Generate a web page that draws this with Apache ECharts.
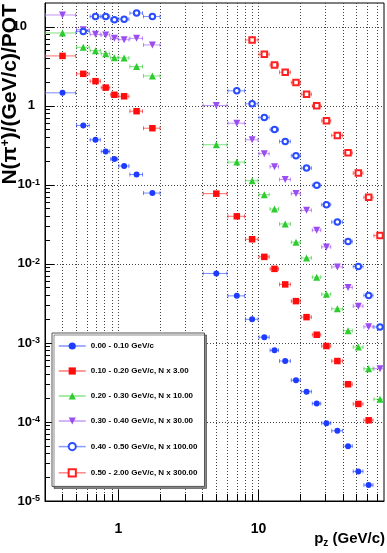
<!DOCTYPE html>
<html>
<head>
<meta charset="utf-8">
<script src="https://cdn.jsdelivr.net/npm/echarts@6/dist/echarts.min.js"></script>
<style>
html, body { margin: 0; padding: 0; background: #fff; }
#chart { width: 387px; height: 553px; }
</style>
</head>
<body>
<div id="chart"></div>
<script>
// p_z bin centres (GeV/c) and half widths: low-momentum part, then high-momentum part
const pzLow = [0.4, 0.5625, 0.6875, 0.8125, 0.9375, 1.1, 1.35, 1.75];
const pzLowErr = [0.1, 0.0625, 0.0625, 0.0625, 0.0625, 0.1, 0.15, 0.25];
const pzHigh = [5, 7, 9, 11, 13, 15.5, 18.5, 22, 26, 30.5, 36.5, 43.5, 51.5, 61, 73.5];
const pzHighErr = [1, 1, 1, 1, 1, 1.5, 1.5, 2, 2, 2.5, 3.5, 3.5, 4.5, 5, 7.5];

const seriesNames = [
    '0.00 - 0.10 GeV/c',
    '0.10 - 0.20 GeV/c, N x 3.00',
    '0.20 - 0.30 GeV/c, N x 10.00',
    '0.30 - 0.40 GeV/c, N x 30.00',
    '0.40 - 0.50 GeV/c, N x 100.00',
    '0.50 - 2.00 GeV/c, N x 300.00'
];

// N(pi+)/(GeV/c)/POT, per pT slice (null = no point)
const pt0Low = [1.46, 0.564, 0.372, 0.265, 0.212, 0.173, 0.135, 0.0788];
const pt0High = [0.00757, 0.00394, 0.00199, 0.00118, 0.000807, 0.00059, 0.000337, 0.000242, 0.000171, 0.0000966, 0.0000773, 0.0000494, 0.0000237, 0.0000159, null];

const pt1Low = [4.28, 2.54, 2.05, 1.70, 1.38, 1.32, 0.855, 0.521];
const pt1High = [0.0774, 0.040, 0.0205, 0.01227, 0.00865, 0.0055, 0.00338, 0.00212, 0.00127, 0.000914, 0.00059, 0.0003, 0.000169, 0.000105, null];

const pt2Low = [8.35, 5.5, 4.99, 4.57, 4.07, 4.04, 3.14, 2.39];
const pt2High = [0.322, 0.194, 0.113, 0.0752, 0.0495, 0.032, 0.0188, 0.0119, 0.0068, 0.00414, 0.0027, 0.00143, 0.000887, 0.000472, 0.000194];

const pt3Low = [14.1, 9.19, 8.02, 7.88, 7.14, 6.87, 7.14, 5.89];
const pt3High = [1.01, 0.603, 0.372, 0.248, 0.17, 0.117, 0.0775, 0.0477, 0.0267, 0.0164, 0.00916, 0.00504, 0.00292, 0.0016, 0.000472];

const pt4Low = [null, 8.75, 13.5, 13.5, 12.3, 12.5, 14.9, 13.5];
const pt4High = [null, 1.55, 1.06, 0.711, 0.502, 0.354, 0.234, 0.163, 0.0986, 0.0562, 0.0339, 0.0192, 0.00927, 0.00399, 0.00159];

const pt5Low = [null, null, null, null, null, null, null, null];
const pt5High = [null, null, 6.81, 4.48, 3.29, 2.66, 1.97, 1.4, 1.0, 0.647, 0.422, 0.255, 0.141, 0.0695, 0.0228];

// axis ticks
const xMajorTicks = [1, 10];
const xMinorTicks = [0.4, 0.5, 0.6, 0.7, 0.8, 0.9, 1, 2, 3, 4, 5, 6, 7, 8, 9, 10, 20, 30, 40, 50, 60, 70];
const yDecades = [1e-5, 1e-4, 1e-3, 1e-2, 1e-1, 1, 10];
const yMinorTicks = [];
yDecades.forEach(d => [2, 3, 4, 5, 6, 7, 8, 9].forEach(k => { if (k * d < 20) yMinorTicks.push(+(k * d).toPrecision(3)); }));

const pz = pzLow.concat(pzHigh);
const pzErr = pzLowErr.concat(pzHighErr);
const values = [
    pt0Low.concat(pt0High), pt1Low.concat(pt1High), pt2Low.concat(pt2High),
    pt3Low.concat(pt3High), pt4Low.concat(pt4High), pt5Low.concat(pt5High)
];

const looks = [
    { color: '#1e3cff', symbol: 'circle', size: 6, rotate: 0 },
    { color: '#ff0d0d', symbol: 'rect', size: 6.5, rotate: 0 },
    { color: '#2ecc2e', symbol: 'triangle', size: 7, rotate: 0 },
    { color: '#9a4df0', symbol: 'triangle', size: 7, rotate: 180 },
    { color: '#2a4cff', symbol: 'emptyCircle', size: 5.5, rotate: 0 },
    { color: '#ff2020', symbol: 'emptyRect', size: 5.5, rotate: 0 }
];

const FONT = '"Liberation Sans", Arial, Helvetica, sans-serif';

const series = [];
values.forEach((vals, i) => {
    const look = looks[i];
    const pts = [];
    const errs = [];
    vals.forEach((v, j) => {
        if (v == null) return;
        pts.push([pz[j], v]);
        errs.push([pz[j], v, pzErr[j]]);
    });
    const empty = look.symbol.startsWith('empty');
    series.push({
        type: 'custom',
        name: 'err' + i,
        data: errs,
        encode: { x: 0, y: 1 },
        clip: true,
        silent: true,
        z: 2,
        renderItem: (params, api) => {
            const x = api.value(0), y = api.value(1), e = api.value(2);
            const a = api.coord([x - e, y]);
            const b = api.coord([x + e, y]);
            const st = { stroke: look.color, lineWidth: 1, opacity: 0.6 };
            return {
                type: 'group',
                children: [
                    { type: 'line', shape: { x1: a[0], y1: a[1], x2: b[0], y2: b[1] }, style: st },
                    { type: 'line', shape: { x1: a[0] + 0.5, y1: a[1] - 2, x2: a[0] + 0.5, y2: a[1] + 2 }, style: st },
                    { type: 'line', shape: { x1: b[0] - 0.5, y1: b[1] - 2, x2: b[0] - 0.5, y2: b[1] + 2 }, style: st }
                ]
            };
        }
    });
    series.push({
        type: 'line',
        name: seriesNames[i],
        data: pts,
        symbol: look.symbol,
        symbolSize: look.size,
        symbolRotate: look.rotate,
        showSymbol: true,
        showAllSymbol: true,
        animation: false,
        silent: true,
        z: 3,
        lineStyle: { opacity: 0, color: look.color },
        itemStyle: { color: look.color, borderColor: look.color, borderWidth: empty ? 1.2 : 0 }
    });
});

const dotted = { show: true, lineStyle: { color: '#444', width: 1, type: [1, 2] } };

const option = {
    animation: false,
    textStyle: { fontFamily: FONT },
    grid: { left: 45, right: 3, top: 3, bottom: 52, show: true, borderColor: '#000', borderWidth: 1, outerBoundsMode: 'none' },
    legend: {
        data: seriesNames,
        orient: 'vertical',
        left: 52,
        top: 333,
        padding: [9, 7, 9, 6],
        itemWidth: 27,
        itemHeight: 9,
        itemGap: 17,
        backgroundColor: '#fff',
        borderColor: '#555',
        borderWidth: 1,
        borderRadius: 0,
        shadowColor: 'rgba(0,0,0,0.45)',
        shadowBlur: 0,
        shadowOffsetX: 2,
        shadowOffsetY: 2,
        selectedMode: false,
        z: 10,
        lineStyle: { width: 1.5, opacity: 0.55 },
        textStyle: { fontFamily: FONT, fontSize: 8, fontWeight: 'bold', color: '#000' }
    },
    xAxis: [{
        type: 'log', logBase: 10, min: 0.3, max: 78.5, position: 'bottom',
        axisLine: { show: true, lineStyle: { color: '#000', width: 1 } },
        axisTick: { show: true, inside: true, length: 7, customValues: xMinorTicks, lineStyle: { color: '#000' } },
        axisLabel: { show: false },
        splitLine: dotted,
        minorTick: { show: false }, minorSplitLine: { show: false }
    }, {
        type: 'log', logBase: 10, min: 0.3, max: 78.5, position: 'bottom',
        axisLine: { show: false },
        axisTick: { show: true, inside: true, length: 11, customValues: xMajorTicks, lineStyle: { color: '#000' } },
        axisLabel: {
            show: true, customValues: xMajorTicks, margin: 21, color: '#000',
            fontFamily: FONT, fontSize: 14, fontWeight: 'bold',
            formatter: v => String(Math.round(v))
        },
        splitLine: { show: false }
    }],
    yAxis: [{
        type: 'log', logBase: 10, min: 1e-5, max: 20, position: 'left',
        axisLine: { show: true, lineStyle: { color: '#000', width: 1 } },
        axisTick: { show: true, inside: true, length: 5, customValues: yMinorTicks, lineStyle: { color: '#000' } },
        axisLabel: { show: false },
        splitLine: { show: false }
    }, {
        type: 'log', logBase: 10, min: 1e-5, max: 20, position: 'left',
        axisLine: { show: false },
        axisTick: { show: true, inside: true, length: 9, customValues: yDecades, lineStyle: { color: '#000' } },
        axisLabel: {
            show: true, customValues: yDecades, margin: 5, color: '#000',
            formatter: v => {
                const e = Math.round(Math.log10(v));
                if (e === 1) return '{ten|10}';
                if (e === 0) return '{one|1}';
                return '{m|10}{s|' + e + '}';
            },
            rich: {
                ten: { fontFamily: FONT, fontSize: 13, fontWeight: 'bold', lineHeight: 14, padding: [0, 13, 0, 0] },
                one: { fontFamily: FONT, fontSize: 13, fontWeight: 'bold', lineHeight: 14, padding: [0, 5, 0, 0] },
                m: { fontFamily: FONT, fontSize: 13, fontWeight: 'bold', lineHeight: 14 },
                s: { fontFamily: FONT, fontSize: 9, fontWeight: 'bold', lineHeight: 8, verticalAlign: 'top' }
            }
        },
        splitLine: dotted
    }],
    graphic: [{
        type: 'text',
        x: 10, y: 4,
        rotation: Math.PI / 2,
        style: {
            text: 'N(π{sup|+})/(GeV/c)/POT',
            font: 'bold 21px ' + FONT,
            fill: '#000',
            textAlign: 'right',
            textVerticalAlign: 'middle',
            rich: {
                sup: { fontFamily: FONT, fontSize: 12, fontWeight: 'bold', verticalAlign: 'top', lineHeight: 10 }
            }
        }
    }, {
        type: 'text',
        x: 385, y: 540,
        style: {
            text: '{p|p}{z|z}{p| (GeV/c)}',
            fill: '#000',
            textAlign: 'right',
            textVerticalAlign: 'middle',
            rich: {
                p: { fontFamily: FONT, fontSize: 15, fontWeight: 'bold', lineHeight: 17, verticalAlign: 'top' },
                z: { fontFamily: FONT, fontSize: 10, fontWeight: 'bold', lineHeight: 8, padding: [12, 0, 0, 0], verticalAlign: 'bottom' }
            }
        }
    }],
    series: series
};

const chart = echarts.init(document.getElementById('chart'));
chart.setOption(option);
window.addEventListener('resize', () => chart.resize());
</script>
</body>
</html>
